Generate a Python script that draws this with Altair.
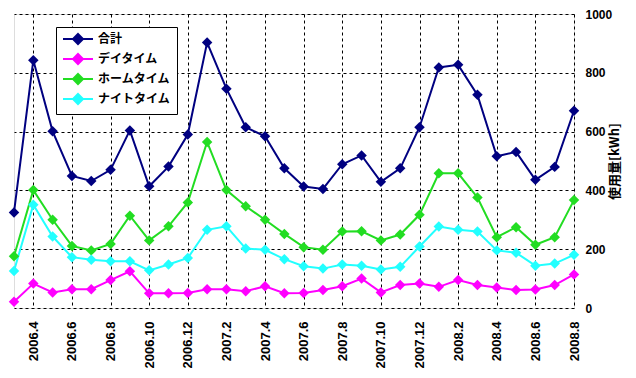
import altair as alt
import pandas as pd

months = ["2006.3", "2006.4", "2006.5", "2006.6", "2006.7", "2006.8", "2006.9", "2006.10",
          "2006.11", "2006.12", "2007.1", "2007.2", "2007.3", "2007.4", "2007.5", "2007.6",
          "2007.7", "2007.8", "2007.9", "2007.10", "2007.11", "2007.12", "2008.1", "2008.2",
          "2008.3", "2008.4", "2008.5", "2008.6", "2008.7", "2008.8"]
tick_labels = ["2006.4", "2006.6", "2006.8", "2006.10", "2006.12", "2007.2", "2007.4",
               "2007.6", "2007.8", "2007.10", "2007.12", "2008.2", "2008.4", "2008.6", "2008.8"]

series_names = ["合計", "デイタイム", "ホームタイム", "ナイトタイム"]
series_colors = ["#000080", "#FF00FF", "#22DD22", "#22FFFF"]

total = [325, 843, 601, 449, 432, 470, 604, 414, 481, 590, 903, 746, 615, 584, 475, 413,
         405, 489, 519, 429, 475, 615, 818, 827, 725, 516, 531, 436, 480, 671]
daytime = [21, 83, 53, 64, 64, 95, 125, 50, 50, 51, 64, 64, 57, 74, 50, 51,
           61, 74, 100, 53, 78, 83, 72, 95, 78, 70, 61, 63, 78, 114]
hometime = [176, 401, 300, 211, 196, 218, 314, 230, 278, 359, 565, 401, 346, 300, 252, 207,
            198, 260, 261, 230, 250, 317, 458, 458, 376, 241, 275, 215, 241, 367]
nighttime = [126, 351, 243, 173, 164, 159, 159, 128, 148, 170, 266, 278, 202, 198, 166, 142,
             134, 148, 144, 131, 140, 209, 277, 266, 260, 196, 188, 144, 151, 181]

y_ticks = [0, 200, 400, 600, 800, 1000]

rows = []
for name, vals in zip(series_names, [total, daytime, hometime, nighttime]):
    for i, (m, v) in enumerate(zip(months, vals)):
        rows.append({"month": m, "idx": i, "series": name, "value": v})
df = pd.DataFrame(rows)

num_font = "Liberation Sans"
jp_font = "Noto Sans CJK JP"

legend_path = "M-1,0L5,0M2,-1L3,0L2,1L1,0Z"

chart = alt.Chart(df).mark_line(
    strokeWidth=2,
    point=alt.OverlayMarkDef(shape="diamond", size=110, filled=True),
).encode(
    x=alt.X("month:N", sort=months,
            scale=alt.Scale(type="point", padding=0),
            axis=alt.Axis(values=tick_labels, labelAngle=270, grid=True, gridDash=[3, 3],
                          gridColor="black", gridOpacity=1, ticks=False, domain=False,
                          title=None, labelFont=num_font, labelFontSize=13,
                          labelFontWeight="bold", labelColor="black", labelPadding=13)),
    y=alt.Y("value:Q",
            scale=alt.Scale(domain=[0, 1000], nice=False),
            axis=alt.Axis(orient="right", values=y_ticks, format="d", grid=True,
                          gridDash=[3, 3], gridColor="black", gridOpacity=1, ticks=False,
                          domain=False, title="使用量[kWh]", titleAngle=270,
                          titleFont=jp_font, titleFontSize=13, titleFontWeight="bold",
                          titleColor="black", titlePadding=10, labelFont=num_font,
                          labelFontSize=12, labelFontWeight="bold", labelColor="black",
                          labelPadding=11)),
    color=alt.Color("series:N",
                    scale=alt.Scale(domain=series_names, range=series_colors),
                    legend=alt.Legend(title=None, orient="none", legendX=42, legendY=13,
                                      fillColor="white", strokeColor="black",
                                      padding=6, symbolType=legend_path, symbolSize=100,
                                      symbolStrokeWidth=2, labelOffset=24,
                                      labelFont=jp_font, labelFontSize=12,
                                      labelFontWeight="bold", labelColor="black",
                                      rowPadding=2)),
    order=alt.Order("idx:Q"),
).properties(
    width=560,
    height=294,
    autosize=alt.AutoSizeParams(type="none"),
    padding={"left": 6, "top": 6, "right": 54, "bottom": 62},
).configure_view(
    stroke="#808080", strokeWidth=2, strokeDash=[2, 1]
).configure(background="white")

chart.save("out.html", embed_options={"renderer": "svg", "actions": False})
